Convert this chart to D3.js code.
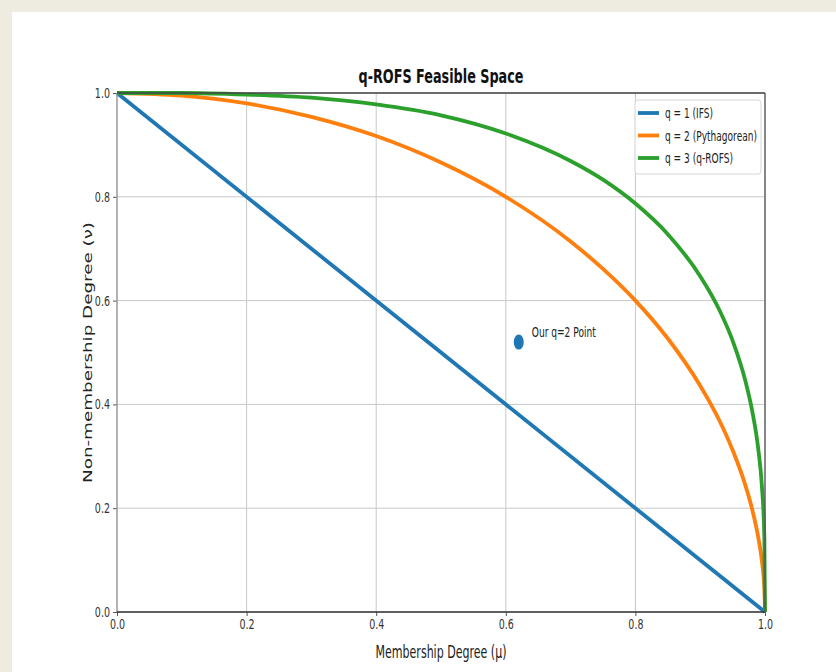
<!DOCTYPE html>
<meta charset="utf-8">
<head>
<script src="https://d3js.org/d3.v7.min.js"></script>
<style>
  body { margin: 0; background: #eeebe0; }
  svg { display: block; }
</style>
</head>
<body>
<svg id="chart" width="836" height="672"></svg>

<script>
// values
var muIFS = [0, 1];
var nuIFS = [1, 0];

var muPyth = [0, 0.1, 0.2, 0.3, 0.4, 0.5, 0.6, 0.7, 0.75, 0.8, 0.85, 0.9, 0.93, 0.95, 0.97, 0.98, 0.99, 0.995, 0.999, 1];
var nuPyth = [1, 0.995, 0.98, 0.954, 0.917, 0.866, 0.8, 0.714, 0.661, 0.6, 0.527, 0.436, 0.368, 0.312, 0.243, 0.199, 0.141, 0.1, 0.045, 0];

var muQ3 = [0, 0.1, 0.2, 0.3, 0.4, 0.5, 0.6, 0.7, 0.75, 0.8, 0.85, 0.9, 0.93, 0.95, 0.97, 0.98, 0.99, 0.995, 0.999, 1];
var nuQ3 = [1, 1.0, 0.997, 0.991, 0.978, 0.957, 0.922, 0.869, 0.833, 0.787, 0.728, 0.647, 0.581, 0.523, 0.444, 0.389, 0.31, 0.246, 0.144, 0];

var seriesNames = ["q = 1 (IFS)", "q = 2 (Pythagorean)", "q = 3 (q-ROFS)"];
var seriesColors = ["#1f77b4", "#ff7f0e", "#2ca02c"];

var pointMu = [0.62];
var pointNu = [0.52];
var pointLabel = "Our q=2 Point";

var tickValues = [0, 0.2, 0.4, 0.6, 0.8, 1.0];

var svg = d3.select("#chart");

// white panel
svg.append("rect").attr("x", 12).attr("y", 12).attr("width", 824).attr("height", 660).attr("fill", "#fff");

var pL = 117, pR = 765, pT = 93, pB = 612;
var x = d3.scaleLinear().domain([0, 1]).range([pL, pR]);
var y = d3.scaleLinear().domain([0, 1]).range([pB, pT]);

// squish text horizontally like the reference
function squish(sel, k) {
  sel.each(function() {
    var w = this.getComputedTextLength();
    d3.select(this).attr("textLength", w * k).attr("lengthAdjust", "spacingAndGlyphs");
  });
}

// grid
svg.append("g").selectAll("line").data(tickValues).enter().append("line")
  .attr("x1", d => x(d)).attr("x2", d => x(d)).attr("y1", pT).attr("y2", pB)
  .attr("stroke", "#c8c8c8").attr("stroke-width", 1);
svg.append("g").selectAll("line").data(tickValues).enter().append("line")
  .attr("y1", d => y(d)).attr("y2", d => y(d)).attr("x1", pL).attr("x2", pR)
  .attr("stroke", "#c8c8c8").attr("stroke-width", 1);

// axes
var xAxis = svg.append("g").attr("transform", "translate(0," + pB + ")")
  .call(d3.axisBottom(x).tickValues(tickValues).tickFormat(d3.format(".1f")).tickSize(4).tickPadding(3));
var yAxis = svg.append("g").attr("transform", "translate(" + pL + ",0)")
  .call(d3.axisLeft(y).tickValues(tickValues).tickFormat(d3.format(".1f")).tickSize(4).tickPadding(3));
[xAxis, yAxis].forEach(function(a) {
  a.select(".domain").remove();
  a.selectAll(".tick line").attr("stroke", "#555");
  a.selectAll("text").attr("font-family", "DejaVu Sans").attr("font-size", 14).attr("fill", "#333");
  squish(a.selectAll("text"), 0.68);
});

// curves
var line = d3.line().x(d => x(d[0])).y(d => y(d[1])).curve(d3.curveMonotoneX);
var curves = [
  d3.zip(muIFS, nuIFS),
  d3.zip(muPyth, nuPyth),
  d3.zip(muQ3, nuQ3)
];
var plot = svg.append("g");
plot.selectAll("path").data(curves).enter().append("path")
  .attr("d", line).attr("fill", "none")
  .attr("stroke", (d, i) => seriesColors[i]).attr("stroke-width", 3.8);

// spines
svg.append("line").attr("x1", pL).attr("x2", pL).attr("y1", pT).attr("y2", pB).attr("stroke", "#999").attr("stroke-width", 1.3);
svg.append("line").attr("x1", pL).attr("x2", pR).attr("y1", pB).attr("y2", pB).attr("stroke", "#333").attr("stroke-width", 1.3);
svg.append("line").attr("x1", pL).attr("x2", pR).attr("y1", pT).attr("y2", pT).attr("stroke", "#444").attr("stroke-width", 1.3);
svg.append("line").attr("x1", pR).attr("x2", pR).attr("y1", pT).attr("y2", pB).attr("stroke", "#555").attr("stroke-width", 1.3);

// point
svg.selectAll(".pt").data(d3.zip(pointMu, pointNu)).enter().append("ellipse")
  .attr("class", "pt")
  .attr("cx", d => x(d[0])).attr("cy", d => y(d[1]))
  .attr("rx", 5).attr("ry", 7.5).attr("fill", "#1f77b4");
svg.append("text").attr("x", x(pointMu[0]) + 13).attr("y", y(pointNu[0]) - 5)
  .attr("font-family", "DejaVu Sans").attr("font-size", 14).attr("fill", "#222")
  .attr("textLength", 64).attr("lengthAdjust", "spacingAndGlyphs").text(pointLabel);

// legend
var lg = svg.append("g");
lg.append("rect").attr("x", 635).attr("y", 100).attr("width", 126).attr("height", 74).attr("rx", 3)
  .attr("fill", "#fff").attr("fill-opacity", 0.85).attr("stroke", "#d6d6d6");
var legendWidths = [48, 92, 68];
seriesNames.forEach(function(n, i) {
  var ly = 113 + i * 22.5;
  lg.append("line").attr("x1", 638).attr("x2", 659).attr("y1", ly).attr("y2", ly)
    .attr("stroke", seriesColors[i]).attr("stroke-width", 3.8);
  lg.append("text").attr("x", 665).attr("y", ly + 5)
    .attr("font-family", "DejaVu Sans").attr("font-size", 14).attr("fill", "#222")
    .attr("textLength", legendWidths[i]).attr("lengthAdjust", "spacingAndGlyphs").text(n);
});

// title and labels
svg.append("text").attr("x", (pL + pR) / 2).attr("y", 83).attr("text-anchor", "middle")
  .attr("font-family", "DejaVu Sans").attr("font-weight", "bold").attr("font-size", 19).attr("fill", "#111")
  .attr("textLength", 165).attr("lengthAdjust", "spacingAndGlyphs").text("q-ROFS Feasible Space");
svg.append("text").attr("x", (pL + pR) / 2).attr("y", 658).attr("text-anchor", "middle")
  .attr("font-family", "DejaVu Sans").attr("font-size", 17).attr("fill", "#222")
  .attr("textLength", 131).attr("lengthAdjust", "spacingAndGlyphs").text("Membership Degree (μ)");
svg.append("text").attr("transform", "translate(92," + (pT + pB) / 2 + ") scale(0.75,1) rotate(-90)")
  .attr("text-anchor", "middle")
  .attr("font-family", "DejaVu Sans").attr("font-size", 16).attr("fill", "#222")
  .attr("textLength", 261).attr("lengthAdjust", "spacingAndGlyphs").text("Non-membership Degree (ν)");
</script>
</body>
